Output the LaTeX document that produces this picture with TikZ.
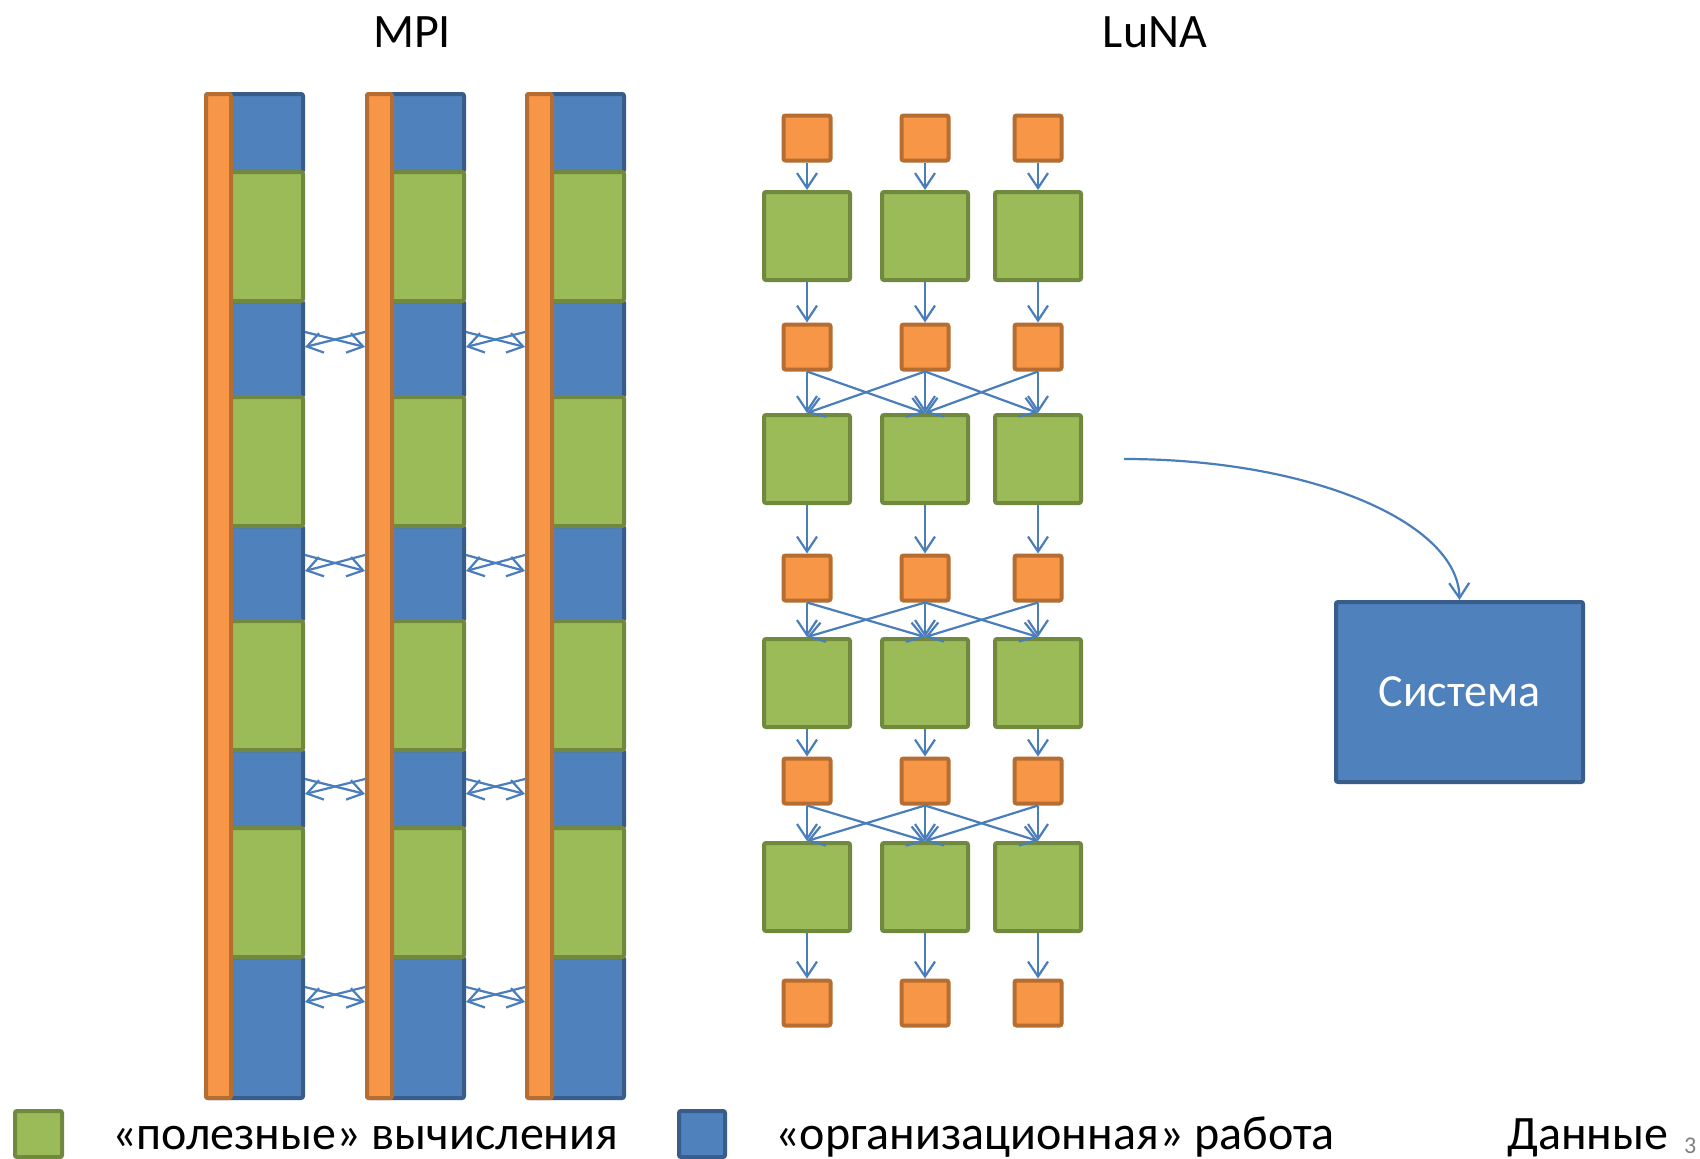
\documentclass[tikz,border=0pt]{standalone}
\usepackage{fontspec}
\setmainfont{Carlito}
\usetikzlibrary{arrows.meta}
\definecolor{orF}{HTML}{F79646}
\definecolor{orD}{HTML}{B66D31}
\definecolor{blF}{HTML}{4F81BD}
\definecolor{blD}{HTML}{385D8A}
\definecolor{grF}{HTML}{9BBB59}
\definecolor{grD}{HTML}{71893F}
\definecolor{arr}{HTML}{4A7EBB}
\tikzset{
  base box/.style={rectangle, inner sep=0pt, line width=4pt, rounded corners=2pt},
  bluebox/.style={base box, draw=blD, fill=blF},
  greenbox/.style={base box, draw=grD, fill=grF},
  orangebox/.style={base box, draw=orD, fill=orF},
  conn/.style={draw=arr, line width=2.2pt, -{Straight Barb[length=15pt,width=20pt]}},
  bigtext/.style={font=\fontsize{48}{58}\selectfont, inner sep=0pt},
}
\begin{document}
\begin{tikzpicture}[x=1pt,y=-1pt]
\fill[white] (0,0) rectangle (1700,1159);
\useasboundingbox (0,0) rectangle (1700,1159);

% titles
\node[bigtext, anchor=base] (tmpi) at (412,47) {MPI};
\node[bigtext, anchor=base] (tluna) at (1155,47) {LuNA};

% MPI columns
\foreach \L [count=\c] in {202,363,523} {
  \foreach \t/\b [count=\r] in {92/170, 299/395, 524/619, 748/826, 955/1096} {
    \node[bluebox, minimum width=97pt, minimum height={(\b-\t)*1pt}, anchor=north west] (b\c\r) at (\L+2,\t) {};
  }
  \foreach \t/\b [count=\r] in {170/299, 395/524, 619/748, 826/955} {
    \node[greenbox, minimum width=97pt, minimum height={(\b-\t)*1pt}, anchor=north west] (g\c\r) at (\L+2,\t) {};
  }
  \node[orangebox, minimum width=25pt, minimum height=1004pt, anchor=north west] (bar\c) at (\L+2,92) {};
}
% MPI exchanges
\foreach \c/\n in {1/2,2/3} {
  \foreach \ya/\yb [count=\r] in {332/347, 555/571, 779/794, 987/1002} {
    \pgfmathtruncatemacro{\s}{\r+1}
    \draw[conn] (b\c\s.east |- 0,\ya) -- (bar\n.west |- 0,\yb);
    \draw[conn] (bar\n.west |- 0,\ya) -- (b\c\s.east |- 0,\yb);
  }
}

% LuNA
\foreach \x [count=\c] in {807,925,1038} {
  \foreach \y [count=\r] in {138,347,578,781,1003} {
    \node[orangebox, minimum width=47pt, minimum height=45pt] (o\r\c) at (\x,\y) {};
  }
  \foreach \y [count=\r] in {236,459,683,887} {
    \node[greenbox, minimum width=86pt, minimum height=88pt] (q\r\c) at (\x,\y) {};
  }
}
\foreach \c in {1,2,3} {
  \foreach \r in {1,2,3,4} {
    \pgfmathtruncatemacro{\n}{\r+1}
    \draw[conn] (o\r\c.south) -- (q\r\c.north);
    \draw[conn] (q\r\c.south) -- (o\n\c.north);
  }
}
\foreach \r in {2,3,4} {
  \draw[conn] (o\r1.south) -- (q\r2.north);
  \draw[conn] (o\r2.south) -- (q\r1.north);
  \draw[conn] (o\r2.south) -- (q\r3.north);
  \draw[conn] (o\r3.south) -- (q\r2.north);
}

% System
\node[bluebox, minimum width=247pt, minimum height=180pt, text=white, font=\fontsize{46}{56}\selectfont] (sys) at (1459.5,692) {Система};
\coordinate (cs) at (1124,459);
\draw[conn] (cs) .. controls (1310,459) and (1458,522) .. (sys.north);

% legend
\node[greenbox, minimum width=47pt, minimum height=46pt, anchor=north west] (lg) at (13,1109) {};
\node[bigtext, anchor=base west] (lgt) at (112,1149) {«полезные» вычисления};
\node[bluebox, minimum width=46pt, minimum height=46pt, anchor=north west] (lb) at (677,1109) {};
\node[bigtext, anchor=base west] (lbt) at (775,1149) {«организационная» работа};
\node[bigtext, anchor=base west] (ld) at (1507,1149) {Данные};
\node[anchor=base west, inner sep=0pt, text=gray, font=\fontsize{24}{28}\selectfont] (pg) at (1684,1153) {3};
\end{tikzpicture}
\end{document}
